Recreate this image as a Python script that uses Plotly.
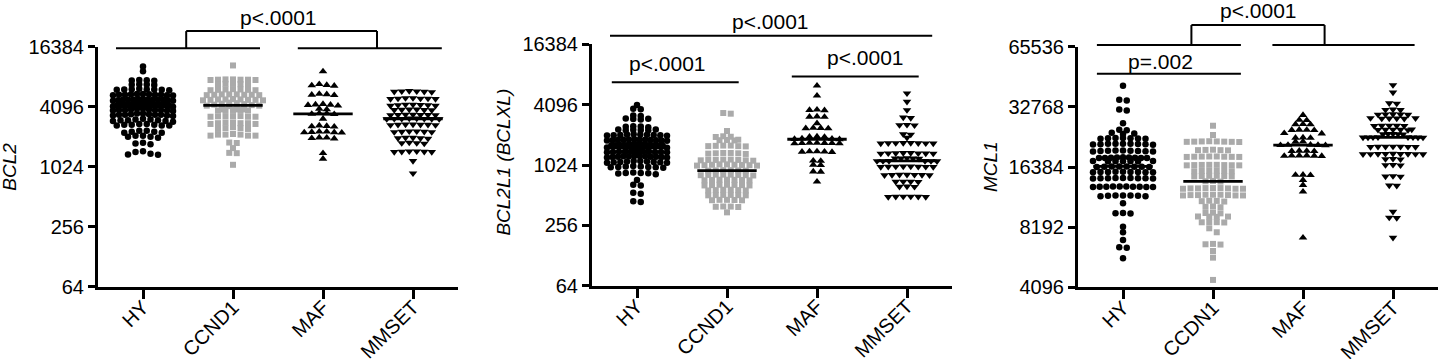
import numpy as np
import plotly.graph_objects as go

# ---------------- data ----------------
CATS_A = ["HY", "CCND1", "MAF", "MMSET"]
CATS_B = ["HY", "CCDN1", "MAF", "MMSET"]

TICKS_BCL = [64, 256, 1024, 4096, 16384]
TICKS_MCL = [4096, 8192, 16384, 32768, 65536]

BCL2_HY = [10400, 9300,
           7600, 7500, 7450, 7550,
           6900, 6800, 6750, 6850,
           6150, 6100, 6050, 6000, 6200, 6100, 6050, 6150,
           5450, 5400, 5350, 5500, 5400, 5300, 5450, 5400, 5350, 5500, 5400,
           4850, 4800, 4750, 4900, 4800, 4700, 4850, 4800, 4750, 4900, 4800, 4700, 4850,
           4350, 4300, 4250, 4400, 4300, 4200, 4350, 4300, 4250, 4400, 4300, 4200, 4350, 4300, 4250, 4150, 4100,
           3850, 3800, 3750, 3900, 3800, 3700, 3850, 3800, 3750, 3900, 3800,
           3450, 3400, 3350, 3500, 3400, 3300, 3450, 3400, 3350, 3500, 3400,
           3050, 3000, 2950, 3100, 3000, 2900, 3050, 3000, 2950,
           2700, 2650, 2750, 2700, 2650, 2750, 2700, 2650,
           2300, 2350, 2250, 2300, 2350, 2250,
           2050, 2100, 2000, 2050, 2100,
           1750, 1780, 1720,
           1460, 1440,
           1380, 1360, 1350]
BCL2_CCND1 = [10630,
              7700, 7650, 7600, 7650, 7700, 7600, 7650,
              6950, 6900, 6850, 6950, 6900,
              6100, 6050, 6000, 6100, 6050, 6150, 6000,
              5450, 5400, 5350, 5450, 5400, 5350, 5450, 5400,
              4850, 4800, 4750, 4850, 4800, 4750, 4850, 4800, 4900,
              4500, 4450, 4400, 4350, 4300, 4250, 4200, 4200, 4150,
              3850, 3800, 3750, 3850, 3800, 3750, 3850, 3800,
              3300, 3250, 3300, 3250, 3300, 3250, 3280,
              2800, 2850, 2750, 2800, 2850, 2750, 2800,
              2500, 2450, 2550, 2500, 2450,
              2150, 2100, 2150, 2100, 2150, 2100, 2180,
              1770, 1790, 1575, 1400, 1410, 1070]
BCL2_MAF = [9260,
            6750, 6700, 6650, 6900,
            5450, 5400, 5350, 5500,
            4300, 4280, 4250, 4350, 4200,
            3900, 3850,
            3500, 3470, 3450, 3520,
            3100,
            2650, 2600, 2620, 2580,
            2300, 2270, 2250, 2280, 2260, 2300,
            2000, 1980, 1960, 2010,
            1400, 1230]
BCL2_MMSET = [5850, 5800, 5850, 5750, 5800, 5900,
              4950, 4900, 5000, 4950, 4900, 5000, 4950,
              4300, 4250, 4200, 4300, 4250, 4200, 4280,
              3850, 3800, 3850, 3780, 3820, 3800,
              3420, 3400, 3380, 3420, 3400, 3380, 3400,
              3120, 3100, 3080, 3120, 3100, 3080, 3100, 3090,
              2700, 2680, 2720, 2700, 2680, 2720, 2700,
              2300, 2320, 2280, 2300, 2320, 2280,
              1980, 2000, 1960, 1980, 2000,
              1770, 1750, 1790, 1770,
              1450, 1460, 1440, 1450, 1460, 1440,
              1170, 880]

BCLXL_HY = [4060, 3720, 3690, 3200, 3160,
            2980, 2950, 2920, 2960,
            2500, 2470, 2440, 2480,
            2310, 2290, 2270, 2300, 2280, 2320,
            2060, 2040, 2020, 2050, 2030, 2070, 2040, 2010, 2060, 2030,
            1840, 1820, 1800, 1830, 1810, 1850, 1820, 1790, 1840, 1810, 1830, 1800,
            1640, 1620, 1600, 1630, 1610, 1650, 1620, 1590, 1640, 1610, 1630, 1600, 1620,
            1530, 1520, 1525, 1515,
            1400, 1390, 1380, 1410, 1370, 1400, 1390, 1380, 1410, 1370, 1400, 1390, 1380,
            1250, 1240, 1230, 1260, 1220, 1250, 1240, 1230, 1260, 1220, 1250, 1240,
            1110, 1100, 1090, 1120, 1080, 1110, 1100, 1090, 1120, 1080,
            990, 980, 970, 1000, 960, 990, 980, 970,
            850, 840, 860, 830, 850, 845,
            726, 650, 640, 540, 530, 445, 438]
BCLXL_CCND1 = [3380, 3330, 2235,
               1980, 1960, 1950,
               1830, 1820, 1810, 1800,
               1600, 1590, 1580, 1570, 1600, 1580,
               1350, 1340, 1330, 1350, 1340, 1320,
               1160, 1150, 1140, 1160, 1150, 1140, 1150, 1130,
               1040, 1030, 1020, 1010, 1040, 1030, 1020, 1010, 1025,
               910, 905, 900, 910, 905, 900,
               820, 815, 810, 820, 815, 805, 810, 820,
               730, 725, 720, 730, 725, 720, 728,
               650, 645, 640, 650, 645, 640, 648,
               580, 575, 570, 580, 575, 570,
               515, 512, 510, 515, 512, 510,
               460, 458, 455, 460, 456,
               395, 392, 390, 394,
               345]
BCLXL_MAF = [6330, 5030,
             3650, 3620, 3600,
             3120, 3100, 3090,
             2665,
             2400, 2380, 2370, 2390,
             1970, 1960, 1950,
             1880, 1860, 1850, 1870,
             1700, 1690, 1680, 1700, 1690, 1680, 1695,
             1400, 1390, 1380, 1400, 1385,
             1130, 1125, 1030, 1020, 880, 875, 697]
BCLXL_MMSET = [5310, 4390, 3620,
               3050, 3020,
               2580, 2560, 2550,
               2080, 2060, 1916,
               1700, 1690, 1680, 1700, 1690, 1680, 1695, 1685,
               1350, 1340, 1330, 1350, 1340, 1330, 1345, 1335,
               1200, 1190, 1185, 1195, 1190,
               1125, 1122, 1120, 1125, 1122, 1118,
               990, 985, 980, 990, 985, 980, 988, 982,
               820, 815, 810, 820, 815, 810, 818,
               700, 697, 695, 700,
               625, 622, 620,
               496, 494, 492, 496, 494, 492]

MCL1_HY = [41830, 35600, 35300, 31800, 31400, 27100, 25200, 25000,
           24300, 24100, 24000,
           22900, 22800, 22700, 22850, 22750, 22900, 22700,
           21400, 21300, 21250, 21450, 21350, 21200, 21400, 21300, 21450,
           19800, 19700, 19600, 19750, 19650, 19800, 19700, 19600, 19750,
           18300, 18200, 18150, 18350, 18250, 18300, 18200, 18150, 18250,
           17550, 17500, 17450, 17550, 17480, 17520, 17500,
           16500, 16450, 16400, 16500, 16450, 16400, 16480, 16420,
           15500, 15450, 15400, 15500, 15450, 15400, 15480, 15420, 15460,
           14450, 14400, 14350, 14450, 14400, 14350, 14420, 14380, 14400,
           13100, 13050, 13000, 13100, 13050, 13000, 13100, 13050, 13000, 13050,
           11800, 11750, 11700, 11800, 11750, 11700, 11780,
           10780, 9650, 9600, 9580, 8236, 7720, 7060, 6500, 6450, 5720]
MCL1_CCDN1 = [26370, 23690,
              22000, 21950, 21900, 22050, 21850, 22000, 21950, 21900,
              20000, 19900, 19850, 19950, 19900,
              18500, 18450, 18400, 18500, 18450, 18400, 18480, 18420,
              16800, 16750, 16700, 16800, 16750, 16700, 16780, 16720,
              15700, 15650, 15600, 15700, 15650, 15600,
              14800, 14750, 14700, 14800, 14750, 14700,
              13950, 13900, 13850,
              12850, 12800, 12750, 12850, 12800, 12750, 12850, 12800, 12750,
              11900, 11850, 11800, 11900, 11850, 11800, 11900, 11850, 11800,
              11100, 11050, 11000, 11080,
              10400, 10350, 10300,
              9680, 9640, 9600,
              9260, 9240, 9220, 9250,
              8680, 8660, 8640, 8670,
              8080, 7720, 6750, 6720, 6700, 6220, 5760, 4455]
MCL1_MAF = [29820, 28200, 28100, 26800, 26750, 26850,
            25100, 25150, 25050, 25120, 24200, 24100,
            23000, 22950, 22900, 21950, 21900,
            21150, 21100, 21080, 21120, 21050,
            19700, 19750, 19650, 19720,
            18700, 18650, 18600, 18680, 18620, 18700,
            14950, 14900, 14980, 14100, 13310, 12330, 7250]
MCL1_MMSET = [42150, 38730, 34200, 34050, 31800, 31700, 31650,
              30100, 30050, 30000, 30080, 29950,
              28750, 28700, 28650, 28800, 28600, 28700,
              26400, 26350, 26300, 26420, 26380,
              25250, 25200, 25150, 25220, 25180, 25100,
              24000, 23950, 23900, 24020, 23920,
              23100, 23080, 23060, 23040, 23020, 23090, 23050, 23030,
              20750, 20700, 20650, 20720, 20680, 20700, 20660,
              19100, 19050, 19000, 19080, 19020, 19060, 19000, 19040, 19010,
              18000, 17950, 17900, 16800, 16750, 16700,
              14750, 14700, 14680, 13250, 13200,
              9790, 9150, 9110, 7250]

# ---------------- styling / layout configuration ----------------
W, H = 1439, 363
FONT = "Liberation Sans, Arial, Helvetica, sans-serif"
GREY = "#aaaaaa"
MARKERS = [("circle", "black", 6.5), ("square", GREY, 6),
           ("triangle-up", "black", 7.5), ("triangle-down", "black", 7.5)]
YTICK_SIZE, XTICK_SIZE, PTEXT_SIZE, TITLE_SIZE = 20, 20, 21, 19

panels = [
    dict(groups=[BCL2_HY, BCL2_CCND1, BCL2_MAF, BCL2_MMSET], cats=CATS_A,
         ticks=TICKS_BCL, title="<i>BCL2</i>", title_y=0.5,
         xpx=(98, 458), ypx=(46.7, 286.7), bin_px=3.5,
         lines=[[(-0.3, 13.95), (1.3, 13.95)], [(1.72, 13.95), (3.32, 13.95)],
                [(0.48, 13.95), (0.48, 14.52)], [(0.48, 14.52), (2.6, 14.52)],
                [(2.6, 14.52), (2.6, 13.95)]],
         texts=[(1.5, 14.96, "p<.0001")]),
    dict(groups=[BCLXL_HY, BCLXL_CCND1, BCLXL_MAF, BCLXL_MMSET], cats=CATS_A,
         ticks=TICKS_BCL, title="<i>BCL2L1 (BCLXL)</i>", title_y=0.51,
         xpx=(592, 952), ypx=(44.3, 285.7), bin_px=3.5,
         lines=[[(-0.3, 14.285), (3.28, 14.285)],
                [(-0.28, 12.74), (1.13, 12.74)],
                [(1.72, 12.93), (3.13, 12.93)]],
         texts=[(1.48, 14.74, "p<.0001"), (0.34, 13.38, "p<.0001"),
                (2.54, 13.55, "p<.0001")]),
    dict(groups=[MCL1_HY, MCL1_CCDN1, MCL1_MAF, MCL1_MMSET], cats=CATS_B,
         ticks=TICKS_MCL, title="<i>MCL1</i>", title_y=0.5,
         xpx=(1078, 1438), ypx=(46.7, 287.3), bin_px=4.0,
         lines=[[(-0.29, 16.03), (1.31, 16.03)], [(1.66, 16.03), (3.24, 16.03)],
                [(0.76, 16.03), (0.76, 16.36)], [(0.76, 16.36), (2.24, 16.36)],
                [(2.24, 16.36), (2.24, 16.03)],
                [(-0.29, 15.55), (1.31, 15.55)]],
         texts=[(1.5, 16.61, "p<.0001"), (0.42, 15.75, "p=.002")]),
]
SPACING_PX = 7.5     # preferred horizontal spacing of points in a row
MAX_HALF_PX = 30.0   # half width of a column of points


def row_offsets(values, ppu, bin_px, cat_px):
    """Prism-like scatter: points binned in rows, spread symmetrically (center-out)."""
    ys = np.log2(np.asarray(values, float)) * ppu
    order = list(np.argsort(-ys, kind="stable"))
    rows, cur = [], [order[0]]
    for i in order[1:]:
        if ys[cur[0]] - ys[i] < bin_px:
            cur.append(i)
        else:
            rows.append(cur)
            cur = [i]
    rows.append(cur)
    off = np.zeros(len(ys))
    for r in rows:
        n = len(r)
        step = SPACING_PX if n == 1 else min(SPACING_PX, 2 * MAX_HALF_PX / (n - 1))
        slots = sorted([(j - (n - 1) / 2.0) * step for j in range(n)],
                       key=lambda v: (round(abs(v), 6), v))
        for idx, s in zip(r, slots):
            off[idx] = s
    return off / cat_px


fig = go.Figure()
layout = dict(width=W, height=H, margin=dict(l=0, r=0, t=0, b=0),
              paper_bgcolor="white", plot_bgcolor="white", showlegend=False,
              font=dict(family=FONT, color="black", size=18))
shapes, annotations = [], []

for k, p in enumerate(panels, start=1):
    xs_id = "x" if k == 1 else f"x{k}"
    ys_id = "y" if k == 1 else f"y{k}"
    x0, x1 = p["xpx"]
    ytop, ybot = p["ypx"]
    lo, hi = np.log2(p["ticks"][0]), np.log2(p["ticks"][-1])
    ppu = (ybot - ytop) / (hi - lo)
    cat_px = (x1 - x0) / 4.0

    for g, vals in enumerate(p["groups"]):
        sym, col, size = MARKERS[g]
        off = row_offsets(vals, ppu, p["bin_px"], cat_px)
        fig.add_trace(go.Scatter(
            x=g + off, y=vals, mode="markers", xaxis=xs_id, yaxis=ys_id,
            marker=dict(symbol=sym, color=col, size=size, line=dict(width=0)),
            hoverinfo="skip", cliponaxis=False))
        med = float(np.median(vals))
        fig.add_trace(go.Scatter(
            x=[g - 0.33, g + 0.33], y=[med, med], mode="lines",
            xaxis=xs_id, yaxis=ys_id, line=dict(color="black", width=2.8),
            hoverinfo="skip"))

    xdom = [x0 / W, x1 / W]
    ydom = [1 - ybot / H, 1 - ytop / H]
    pad = 0.0004
    layout["xaxis" if k == 1 else f"xaxis{k}"] = dict(
        domain=xdom, anchor=ys_id, range=[-0.5, 3.5],
        tickmode="array", tickvals=[0, 1, 2, 3], ticktext=p["cats"],
        tickangle=-45, ticks="outside", ticklen=9, tickwidth=3,
        ticklabelstandoff=-11,
        tickcolor="black", showline=True, linewidth=3, linecolor="black",
        showgrid=False, zeroline=False, automargin=False,
        tickfont=dict(size=XTICK_SIZE, family=FONT, color="black"))
    layout["yaxis" if k == 1 else f"yaxis{k}"] = dict(
        domain=ydom, anchor=xs_id, type="log",
        range=[np.log10(p["ticks"][0]) - pad, np.log10(p["ticks"][-1]) + pad],
        tickmode="array", tickvals=p["ticks"],
        ticktext=[str(t) for t in p["ticks"]],
        ticks="outside", ticklen=7, tickwidth=3, tickcolor="black",
        showline=True, linewidth=3, linecolor="black",
        showgrid=False, zeroline=False, automargin=False,
        tickfont=dict(size=YTICK_SIZE, family=FONT, color="black"))

    def xd(c):
        return (c + 0.5) / 4.0

    def yd(level):
        return (level - lo) / (hi - lo)

    for (ca, la), (cb, lb) in p["lines"]:
        shapes.append(dict(type="line", xref=f"{xs_id} domain", yref=f"{ys_id} domain",
                           x0=xd(ca), x1=xd(cb), y0=yd(la), y1=yd(lb),
                           line=dict(color="black", width=2)))
    for c, lev, txt in p["texts"]:
        annotations.append(dict(xref=f"{xs_id} domain", yref=f"{ys_id} domain",
                                x=xd(c), y=yd(lev), text=txt, showarrow=False,
                                xanchor="center", yanchor="middle",
                                font=dict(size=PTEXT_SIZE, family=FONT, color="black")))
    annotations.append(dict(xref=f"{xs_id} domain", yref=f"{ys_id} domain",
                            x=0, y=p["title_y"], xshift=-88, text=p["title"], textangle=-90,
                            showarrow=False, xanchor="center", yanchor="middle",
                            font=dict(size=TITLE_SIZE, family=FONT, color="black")))

layout["shapes"] = shapes
layout["annotations"] = annotations
fig.update_layout(**layout)
fig.write_html("out.html", config={"displayModeBar": False},
               post_script="document.body.style.margin='0';document.body.style.padding='0';")
